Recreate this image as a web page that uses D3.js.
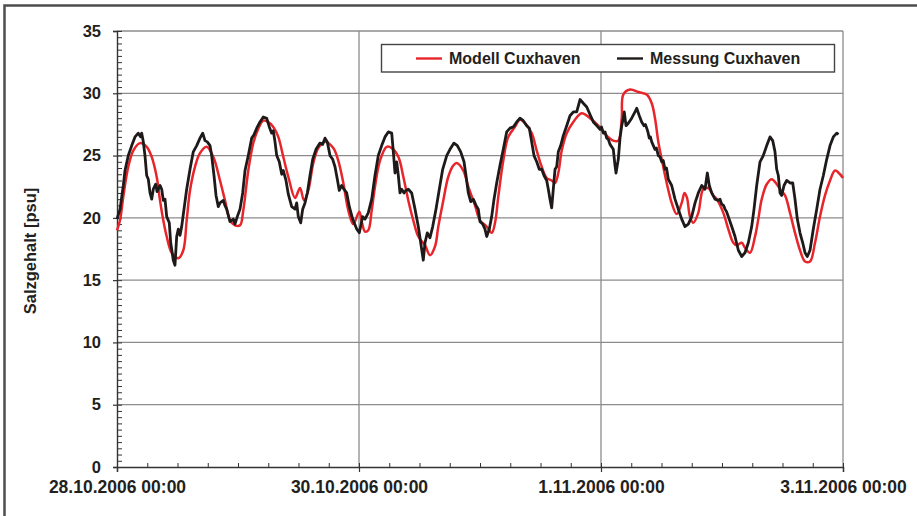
<!DOCTYPE html>
<html>
<head>
<meta charset="utf-8">
<script src="https://cdn.jsdelivr.net/npm/d3@7/dist/d3.min.js"></script>
<style>
  html, body { margin: 0; padding: 0; background: #fff; }
  svg { display: block; }
  text { font-family: "Liberation Sans", Arial, sans-serif; font-weight: bold; fill: #231f20; }
</style>
</head>
<body>
<svg id="chart" width="917" height="516"></svg>
<script>
// Salzgehalt Cuxhaven, Stunden ab 28.10.2006 00:00
const xTickLabels = ["28.10.2006 00:00", "30.10.2006 00:00", "1.11.2006 00:00", "3.11.2006 00:00"];
const xTickHours = [0, 48, 96, 144];
const yTicks = [0, 5, 10, 15, 20, 25, 30, 35];
const seriesNames = ["Modell Cuxhaven", "Messung Cuxhaven"];

// Modell: [Stunde, psu]
const modell = [
  [0.0,19.0],[0.6,19.8],[1.25,21.7],[2.24,24.1],[3.23,25.4],[4.56,26.0],[5.89,25.7],[6.88,24.9],
  [7.87,23.3],[8.53,21.4],[9.18,19.8],[9.86,18.5],[10.85,17.2],[12.16,16.75],[13.15,17.4],[13.82,19.8],
  [14.48,22.2],[15.47,24.1],[16.46,25.2],[17.79,25.7],[19.10,24.9],[20.43,23.0],[21.42,21.4],[22.41,19.8],
  [23.40,19.4],[24.40,19.4],[25.05,20.6],[26.04,23.8],[27.03,26.0],[27.97,27.1],[29.02,27.8],[29.95,27.7],
  [31.00,27.3],[31.99,26.5],[32.98,24.9],[33.98,23.3],[35.31,21.6],[36.30,22.4],[37.09,21.4],[37.94,22.2],
  [38.94,24.4],[39.93,25.6],[41.26,26.1],[42.90,25.6],[43.89,24.6],[44.89,22.8],[45.88,20.6],[46.87,19.5],
  [48.06,20.5],[48.60,19.6],[49.19,18.9],[49.84,19.0],[50.52,20.6],[51.17,22.5],[52.17,24.6],[53.49,25.7],
  [54.49,25.6],[55.80,24.9],[56.79,23.3],[57.78,21.4],[58.77,19.8],[59.76,18.5],[61.09,17.8],[62.08,17.0],
  [63.07,17.7],[63.73,19.3],[64.72,21.4],[65.71,23.3],[66.70,24.2],[67.38,24.4],[68.69,23.8],[69.68,22.5],
  [71.01,21.0],[72.00,19.8],[73.33,19.3],[74.32,18.8],[74.98,19.6],[75.63,21.7],[76.62,24.6],[77.61,26.5],
  [78.94,27.3],[79.93,27.9],[80.93,27.6],[82.25,26.8],[83.25,25.4],[84.24,24.1],[85.23,23.2],[86.22,23.0],
  [86.88,22.8],[87.53,23.6],[88.21,25.4],[89.20,26.8],[90.51,27.7],[92.17,28.4],[93.82,28.0],[95.47,27.4],
  [97.13,26.6],[98.44,26.2],[99.43,26.2],[100.11,28.0],[100.42,29.9],[101.75,30.3],[103.40,30.1],[105.07,29.9],
  [106.06,29.2],[106.71,28.0],[107.37,26.1],[108.04,24.7],[109.03,22.8],[110.02,21.2],[111.01,20.3],[112.01,21.2],
  [112.56,22.0],[113.06,21.6],[113.65,20.1],[114.31,19.6],[115.30,20.4],[116.29,22.3],[117.28,22.4],[118.27,21.8],
  [118.95,21.5],[120.26,20.4],[121.25,19.1],[122.24,18.0],[122.92,17.8],[123.91,18.0],[124.56,17.6],[125.55,17.2],
  [126.55,18.5],[127.20,19.9],[127.88,21.5],[128.87,22.7],[129.86,23.1],[130.85,22.7],[131.51,22.3],[132.50,21.8],
  [133.49,20.4],[134.48,18.8],[135.47,17.4],[136.47,16.5],[137.46,16.5],[138.45,18.0],[139.44,20.1],[140.43,21.8],
  [141.43,23.0],[142.42,23.8],[143.41,23.5],[144.0,23.2]
];

// Messung: [Stunde, psu]
const messung = [
  [0.0,19.9],[0.6,20.7],[1.25,22.6],[1.59,23.8],[2.24,25.0],[2.92,25.8],[3.57,26.5],[4.22,26.8],
  [4.70,26.5],[4.90,26.8],[5.22,26.1],[5.55,25.0],[5.89,23.4],[6.21,23.1],[6.55,22.0],[6.88,21.5],
  [7.20,22.3],[7.68,22.7],[7.95,22.1],[8.19,22.3],[8.55,22.6],[8.87,22.3],[9.18,21.4],[9.52,21.5],[9.86,20.1],[10.37,19.6],
  [10.65,18.0],[11.17,16.6],[11.50,16.2],[11.84,18.5],[12.16,19.1],[12.50,18.6],[12.83,19.3],[13.29,20.7],
  [13.82,22.3],[14.48,23.9],[15.13,25.3],[15.81,25.8],[16.46,26.4],[17.00,26.8],[17.45,26.2],[17.91,26.1],
  [18.45,25.8],[18.78,25.0],[19.24,23.4],[19.64,21.8],[20.09,20.9],[20.43,21.2],[21.08,21.4],[21.40,21.0],[21.76,20.7],
  [22.41,19.7],[23.07,19.9],[23.40,19.5],[23.86,20.1],[24.40,20.7],[24.93,22.0],[25.39,23.8],[26.04,25.0],
  [26.72,26.4],[27.20,26.7],[27.71,27.2],[28.36,27.7],[29.02,28.1],[29.69,28.0],[30.21,27.3],[30.68,26.8],[31.00,27.0],
  [31.34,26.1],[31.68,25.0],[32.19,24.5],[32.67,23.5],[32.98,23.8],[33.52,23.0],[33.98,21.9],[34.65,20.9],
  [35.31,20.7],[35.64,21.2],[35.96,20.1],[36.44,19.6],[36.83,20.7],[37.29,21.2],[37.75,22.0],[38.28,23.4],
  [38.82,24.7],[39.47,25.5],[40.26,26.0],[40.80,25.9],[41.26,26.4],[41.71,26.1],[42.25,25.0],[42.78,24.7],[43.24,24.1],
  [43.70,23.1],[44.09,22.2],[44.57,22.6],[45.02,22.3],[45.56,22.0],[46.08,20.9],[46.75,19.9],[47.54,19.1],
  [48.06,18.8],[48.73,20.1],[49.19,19.9],[49.84,20.4],[50.52,21.5],[51.17,23.4],[51.83,25.0],[52.50,25.8],
  [53.16,26.5],[53.81,26.9],[54.49,26.8],[54.81,25.3],[55.14,23.6],[55.48,24.5],[55.80,23.4],[56.13,22.0],
  [56.47,22.3],[56.93,22.0],[57.32,22.2],[57.78,22.3],[58.45,22.0],[59.11,20.7],[59.76,19.3],[60.24,18.0],
  [60.75,16.6],[61.09,18.0],[61.55,18.8],[62.08,18.4],[62.62,19.3],[63.27,20.7],[63.93,22.3],[64.60,23.9],
  [65.40,25.0],[66.05,25.5],[66.84,26.0],[67.50,25.8],[68.17,25.3],[68.83,24.5],[69.22,23.4],[69.68,22.0],
  [70.16,21.3],[70.67,21.5],[71.21,21.0],[71.66,20.7],[72.00,19.7],[72.54,19.5],[72.99,19.1],[73.33,18.5],
  [73.85,19.1],[74.32,20.1],[74.78,21.5],[75.31,22.8],[75.96,24.2],[76.62,25.5],[77.29,26.9],[77.95,27.2],
  [78.60,27.3],[79.28,27.7],[79.93,28.0],[80.59,27.8],[81.26,27.4],[81.78,27.2],[82.25,26.1],[82.71,25.0],
  [83.25,24.5],[83.76,23.9],[84.24,23.9],[84.69,23.4],[85.23,23.0],[85.55,22.3],[85.88,21.5],[86.22,20.8],
  [86.54,22.3],[86.88,23.9],[87.21,24.1],[87.53,25.3],[88.01,25.8],[88.52,26.6],[89.20,27.4],[89.85,28.2],
  [90.51,28.5],[91.18,28.5],[91.84,29.5],[92.49,29.2],[93.17,28.9],[93.82,28.3],[94.48,27.7],[95.15,27.4],
  [95.80,27.1],[96.10,27.3],[96.46,26.8],[96.80,26.9],[97.13,26.4],[97.45,26.3],[97.79,25.9],[98.44,25.5],[98.78,24.2],[98.98,23.6],[99.43,24.7],
  [99.77,26.4],[100.11,27.4],[100.42,28.0],[100.62,28.5],[100.96,27.4],[101.42,27.6],[102.09,28.0],[102.74,28.5],
  [103.08,28.8],[103.60,28.2],[104.07,27.7],[104.53,27.4],[104.80,27.5],[105.07,27.2],[105.30,26.9],[105.58,26.4],[105.80,26.5],[106.06,26.1],[106.71,25.5],
  [107.00,25.6],[107.37,25.0],[107.70,24.9],[108.04,24.5],[108.35,24.6],[108.69,23.9],[109.00,24.0],[109.35,23.1],[110.02,22.6],[110.68,21.5],[111.33,20.7],[112.01,19.9],
  [112.66,19.3],[113.32,19.5],[113.99,20.1],[114.65,21.2],[115.30,22.0],[115.98,22.6],[116.63,22.3],[117.09,23.6],
  [117.48,22.6],[117.96,22.0],[118.61,21.5],[119.27,21.4],[119.60,21.5],[119.94,21.1],[120.30,21.0],[120.60,20.7],[120.90,20.5],[121.25,20.1],[121.93,19.3],
  [122.58,18.5],[123.24,17.4],[123.91,16.9],[124.56,17.2],[125.22,18.0],[125.89,19.3],[126.35,20.7],[126.88,22.6],
  [127.54,24.5],[128.19,25.0],[128.87,25.8],[129.52,26.5],[130.06,26.2],[130.51,25.3],[130.85,23.9],[131.17,23.4],
  [131.51,22.0],[131.84,21.8],[132.30,22.6],[132.83,23.0],[133.49,22.8],[134.03,22.8],[134.48,21.5],[134.94,19.9],
  [135.47,18.8],[136.01,18.0],[136.47,17.2],[136.92,16.9],[137.46,17.4],[138.11,19.1],[138.79,20.7],[139.44,22.3],
  [140.10,23.4],[140.77,24.7],[141.43,25.8],[142.08,26.5],[142.76,26.8],[143.11,26.7]
];

const svg = d3.select("#chart");
const margin = { left: 117, right: 917 - 843, top: 31, bottom: 516 - 467 };
const width = 917, height = 516;

const x = d3.scaleLinear().domain([0, 144]).range([margin.left, width - margin.right]);
const y = d3.scaleLinear().domain([0, 35]).range([height - margin.bottom, margin.top]);

// outer frame
svg.append("rect")
  .attr("x", 4.5).attr("y", 5.5)
  .attr("width", width + 10).attr("height", height + 10)
  .attr("fill", "none").attr("stroke", "#4d4d4d").attr("stroke-width", 2.5);

// horizontal grid
svg.append("g")
  .selectAll("line")
  .data(yTicks.filter(d => d > 0))
  .join("line")
  .attr("x1", x(0)).attr("x2", x(144))
  .attr("y1", d => y(d)).attr("y2", d => y(d))
  .attr("stroke", "#8c8c8c").attr("stroke-width", 1.3);

// vertical grid
svg.append("g")
  .selectAll("line")
  .data(xTickHours.filter(d => d > 0))
  .join("line")
  .attr("x1", d => x(d)).attr("x2", d => x(d))
  .attr("y1", y(0)).attr("y2", y(35))
  .attr("stroke", "#8c8c8c").attr("stroke-width", 1.3);

// y axis: major ticks outward, minor ticks (0.5) inward
const yAxis = svg.append("g").attr("transform", `translate(${x(0)},0)`);
yAxis.call(d3.axisLeft(y).tickValues(yTicks).tickSize(4).tickPadding(12).tickFormat(d3.format("d")))
  .call(g => g.select(".domain").attr("stroke", "#333").attr("stroke-width", 1.4))
  .call(g => g.selectAll(".tick line").attr("stroke", "#333").attr("stroke-width", 1.2))
  .call(g => g.selectAll(".tick text").attr("font-size", 16.5).attr("font-family", "Liberation Sans, Arial, sans-serif").attr("font-weight", "bold").attr("fill", "#231f20"));
yAxis.append("g").call(d3.axisRight(y).tickValues(d3.range(0, 35.01, 0.5)).tickSize(5).tickFormat(""))
  .call(g => g.select(".domain").remove())
  .call(g => g.selectAll(".tick line").attr("stroke", "#333").attr("stroke-width", 1));

// x axis: major ticks outward, minor ticks (6 h) inward
const xAxis = svg.append("g").attr("transform", `translate(0,${y(0)})`);
xAxis.call(d3.axisBottom(x).tickValues(xTickHours).tickSize(5).tickPadding(9).tickFormat((d, i) => xTickLabels[i]))
  .call(g => g.select(".domain").attr("stroke", "#333").attr("stroke-width", 1.4))
  .call(g => g.selectAll(".tick line").attr("stroke", "#333").attr("stroke-width", 1.2))
  .call(g => g.selectAll(".tick text").attr("font-size", 17.5).attr("font-family", "Liberation Sans, Arial, sans-serif").attr("font-weight", "bold").attr("fill", "#231f20"));
xAxis.append("g").call(d3.axisTop(x).tickValues(d3.range(0, 144.01, 6)).tickSize(4).tickFormat(""))
  .call(g => g.select(".domain").remove())
  .call(g => g.selectAll(".tick line").attr("stroke", "#333").attr("stroke-width", 1));

// y title
svg.append("text")
  .attr("transform", `translate(36,${(y(0) + y(35)) / 2 + 2}) rotate(-90)`)
  .attr("text-anchor", "middle")
  .attr("font-size", 16.5)
  .text("Salzgehalt [psu]");

// series
const lineModell = d3.line().x(d => x(d[0])).y(d => y(d[1])).curve(d3.curveCatmullRom.alpha(0.5));
const lineMessung = d3.line().x(d => x(d[0])).y(d => y(d[1])).curve(d3.curveLinear);

svg.append("path").datum(modell)
  .attr("d", lineModell).attr("fill", "none")
  .attr("stroke", "#e8252b").attr("stroke-width", 2.5).attr("stroke-linejoin", "round");
svg.append("path").datum(messung)
  .attr("d", lineMessung).attr("fill", "none")
  .attr("stroke", "#1f1a1a").attr("stroke-width", 2.8).attr("stroke-linejoin", "round");

// legend
const lg = svg.append("g");
lg.append("rect").attr("x", 381.5).attr("y", 44.5).attr("width", 453).attr("height", 27.5)
  .attr("fill", "#fff").attr("stroke", "#444").attr("stroke-width", 1.4);
const items = [
  { name: seriesNames[0], color: "#e8252b", x0: 416 },
  { name: seriesNames[1], color: "#1f1a1a", x0: 617 }
];
items.forEach(it => {
  lg.append("line").attr("x1", it.x0).attr("x2", it.x0 + 26).attr("y1", 58.5).attr("y2", 58.5)
    .attr("stroke", it.color).attr("stroke-width", 2.4);
  lg.append("text").attr("x", it.x0 + 33).attr("y", 64).attr("font-size", 16).text(it.name);
});
</script>
</body>
</html>
